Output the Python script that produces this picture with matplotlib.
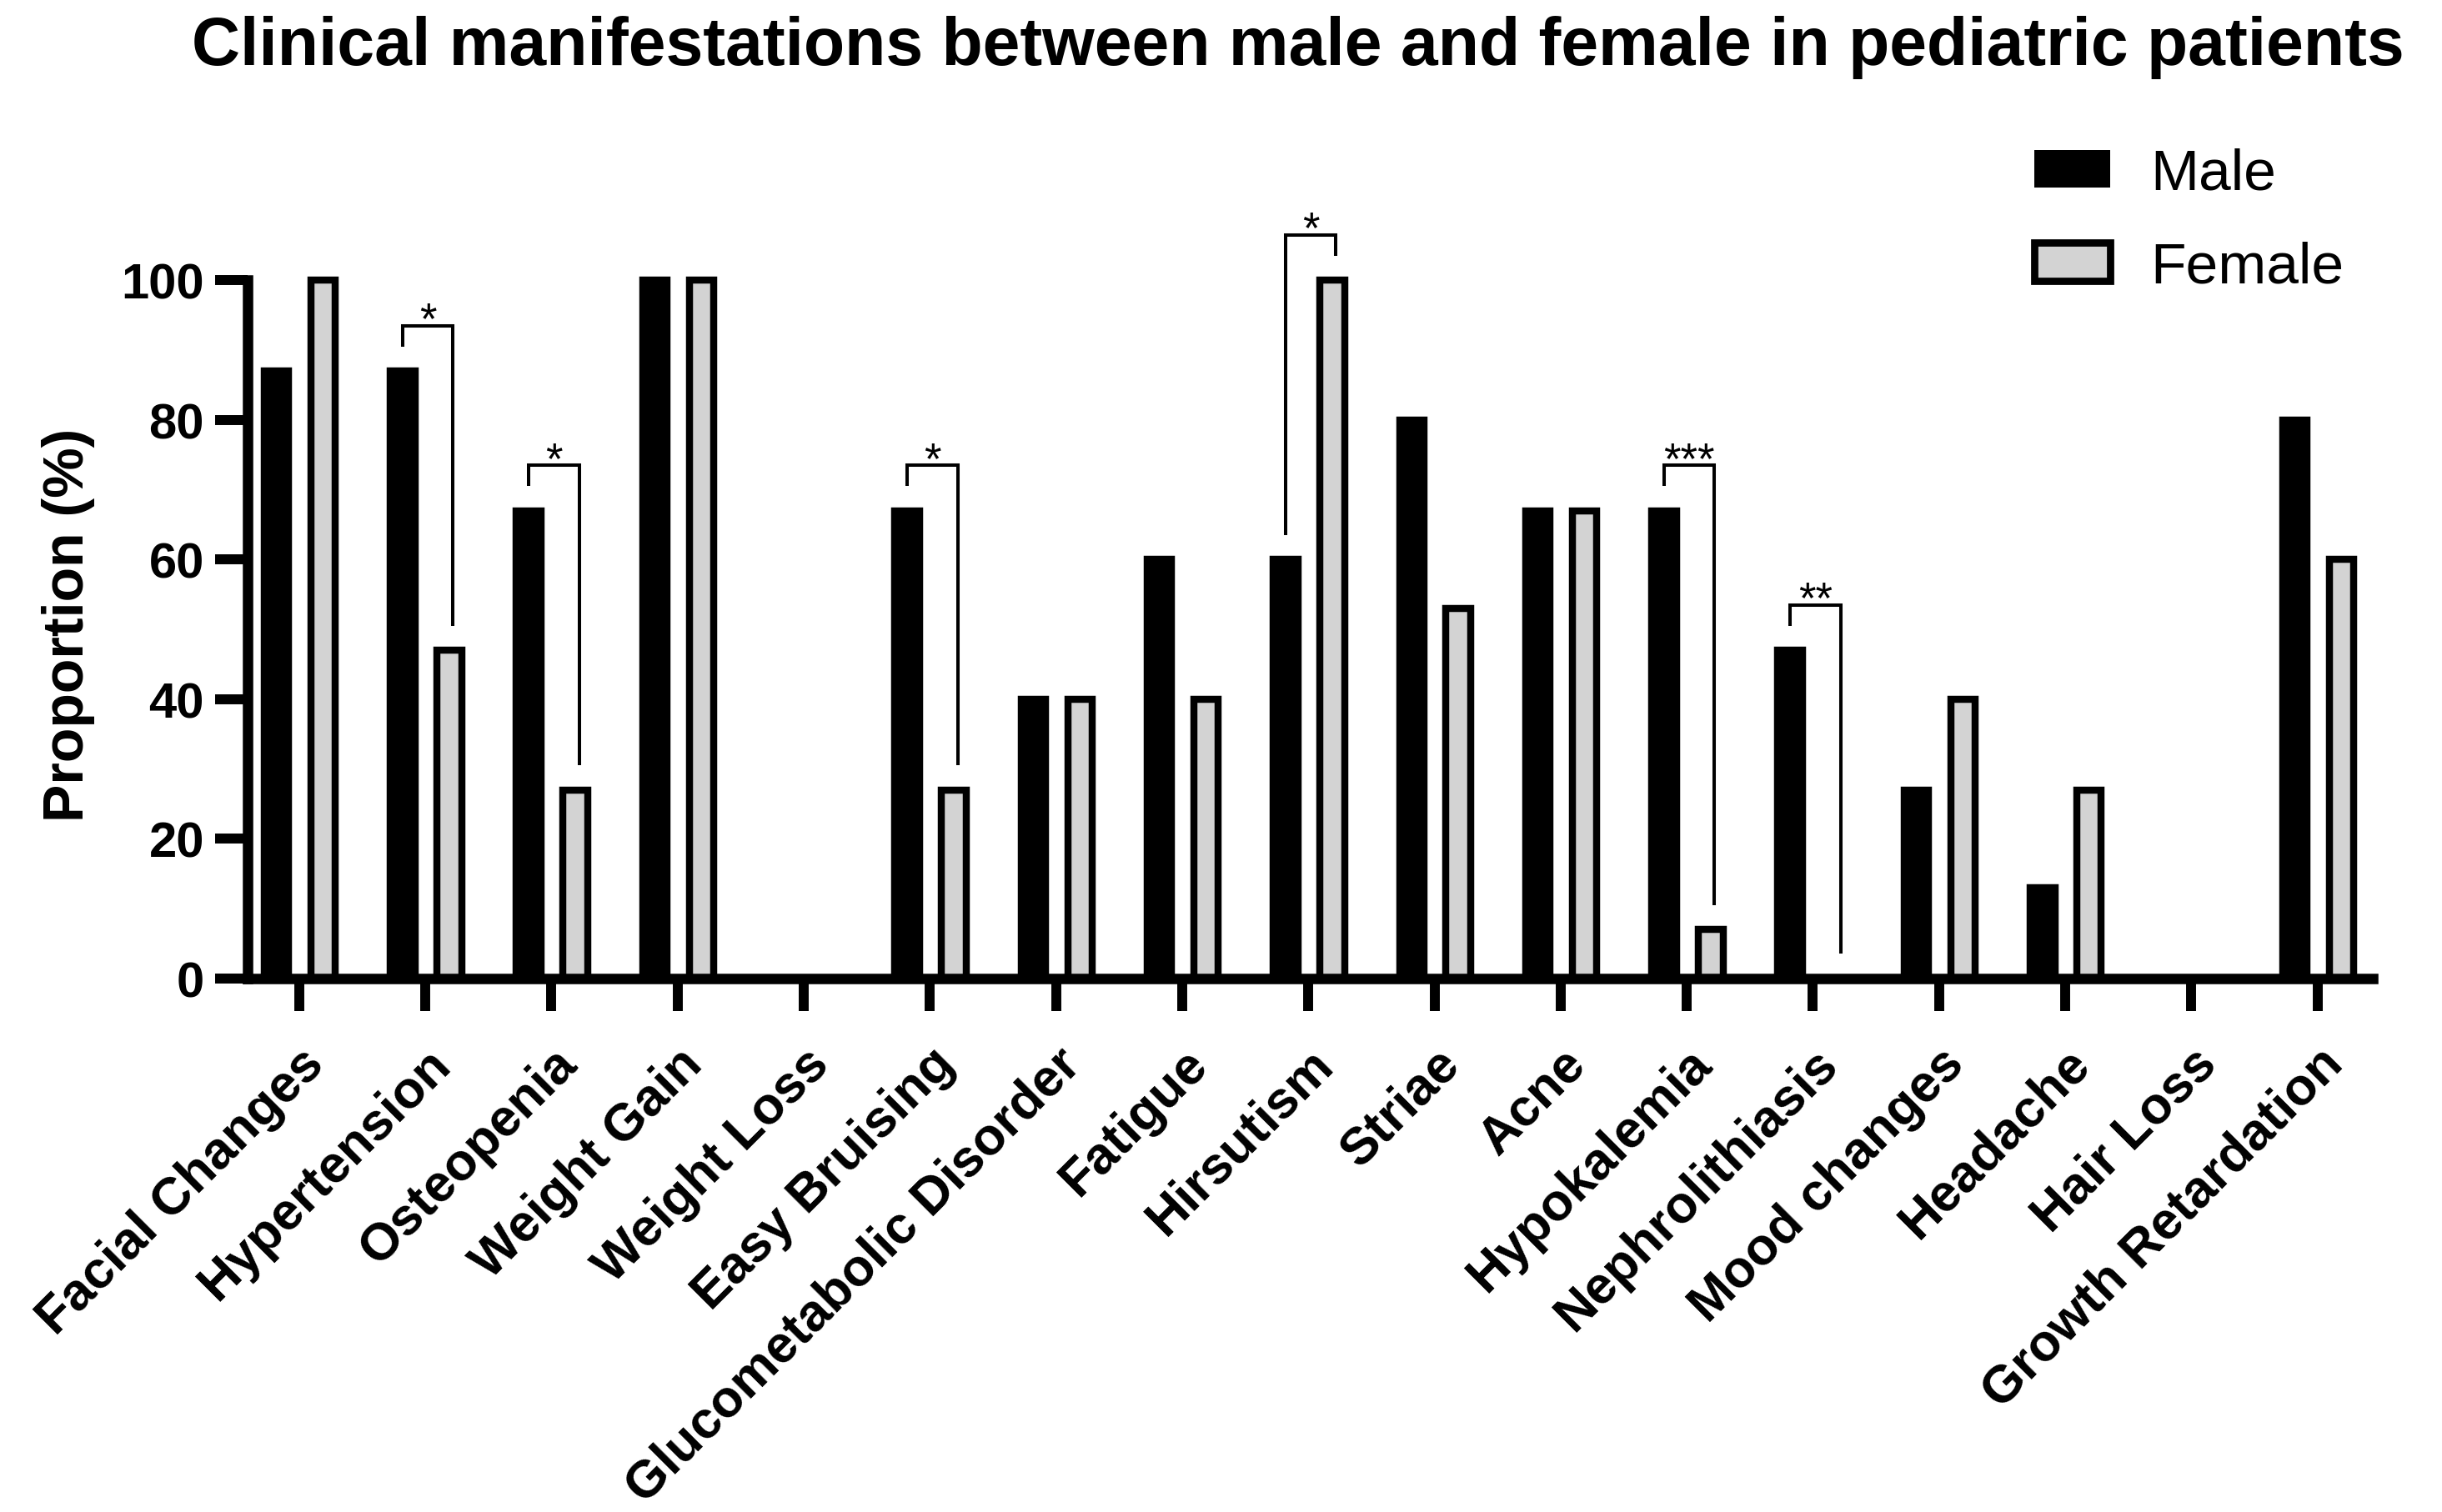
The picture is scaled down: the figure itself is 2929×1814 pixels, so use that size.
import matplotlib
matplotlib.use("Agg")
import matplotlib.pyplot as plt
from matplotlib.patches import Patch
import numpy as np

plt.rcParams['font.family'] = ['Liberation Sans', 'DejaVu Sans']

categories = ['Facial Changes', 'Hypertension', 'Osteopenia', 'Weight Gain', 'Weight Loss',
              'Easy Bruising', 'Glucometabolic Disorder', 'Fatigue', 'Hirsutism', 'Striae',
              'Acne', 'Hypokalemia', 'Nephrolithiasis', 'Mood changes', 'Headache',
              'Hair Loss', 'Growth Retardation']
male = [87, 87, 67, 100, 0, 67, 40, 60, 60, 80, 67, 67, 47, 27, 13, 0, 80]
female = [100, 47, 27, 100, 0, 27, 40, 40, 100, 53, 67, 7, 0, 40, 27, 0, 60]
yticks = [0, 20, 40, 60, 80, 100]
# significance annotations: (category index, label)
sig = [(1, '*'), (2, '*'), (5, '*'), (8, '*'), (11, '***'), (12, '**')]

W, H, DPI = 2929, 1815, 100
fig = plt.figure(figsize=(W / DPI, H / DPI), dpi=DPI)

# axes placement (pixel based)
x0_px, dx_px = 358.8, 151.3
left_px = 296.5
xlim_l = (left_px - x0_px) / dx_px
xlim_r = 16.44
right_px = x0_px + xlim_r * dx_px
y0_px, py = 1174.6, 8.371
ytop = 112
top_px = y0_px - ytop * py
ax = fig.add_axes([left_px / W, (H - y0_px) / H, (right_px - left_px) / W, (y0_px - top_px) / H])
ax.set_xlim(xlim_l, xlim_r)
ax.set_ylim(0, ytop)

x = np.arange(len(categories))
bw = 0.195
off_m, off_f = -0.18, 0.19
lw_bar = 6.1
ax.bar(x + off_m, male, width=bw, color='black', edgecolor='black', linewidth=lw_bar, zorder=2)
ax.bar(x + off_f, female, width=bw, color='#d3d3d3', edgecolor='black', linewidth=lw_bar, zorder=2)

# spines
for s in ['top', 'right']:
    ax.spines[s].set_visible(False)
for s in ['left', 'bottom']:
    ax.spines[s].set_linewidth(9)
    ax.spines[s].set_zorder(3)
ax.spines['left'].set_bounds(0, 100)

ax.set_yticks(yticks)
ax.set_yticklabels([str(v) for v in yticks])
ax.tick_params(axis='y', length=28, width=8.6, pad=9, labelsize=43)
ax.set_xticks(x)
ax.set_xticklabels(categories, rotation=45, ha='right', va='top', rotation_mode='anchor',
                   fontsize=45, fontweight='bold')
ax.tick_params(axis='x', length=28, width=8.6, pad=24)
for lab in ax.get_yticklabels():
    lab.set_fontweight('bold')

# significance brackets
gap = 3.5
for i, lab in sig:
    m, f = male[i], female[i]
    top = max(m, f) + 6.5
    xl, xr = i + off_m, i + off_f + 0.03
    ax.plot([xl, xl, xr, xr], [m + gap, top, top, f + gap], color='black', lw=2.9,
            solid_joinstyle='miter', solid_capstyle='butt', clip_on=False, zorder=4)
    ax.annotate(lab, xy=((xl + xr) / 2, top), xytext=(0, -6), textcoords='offset points',
                ha='center', va='baseline', fontsize=38, annotation_clip=False)

# title & y label
fig.text(1557 / W, 1 - 78 / H, 'Clinical manifestations between male and female in pediatric patients',
         ha='center', va='baseline', fontsize=58, fontweight='bold')
fig.text(82 / W, 1 - 750 / H, 'Proportion (%)', rotation=90, ha='center', va='center',
         fontsize=49, fontweight='bold')

handles = [Patch(facecolor='black', edgecolor='black', linewidth=0, label='Male'),
           Patch(facecolor='#d3d3d3', edgecolor='black', linewidth=6.3, label='Female')]
fig.legend(handles=handles, loc='upper left', bbox_to_anchor=(2440 / W, 1 - 178 / H),
           frameon=False, fontsize=50, handlelength=1.31, handleheight=0.634,
           handletextpad=0.7, labelspacing=0.68, borderpad=0, borderaxespad=0)

fig.savefig('out.png', dpi=DPI)
